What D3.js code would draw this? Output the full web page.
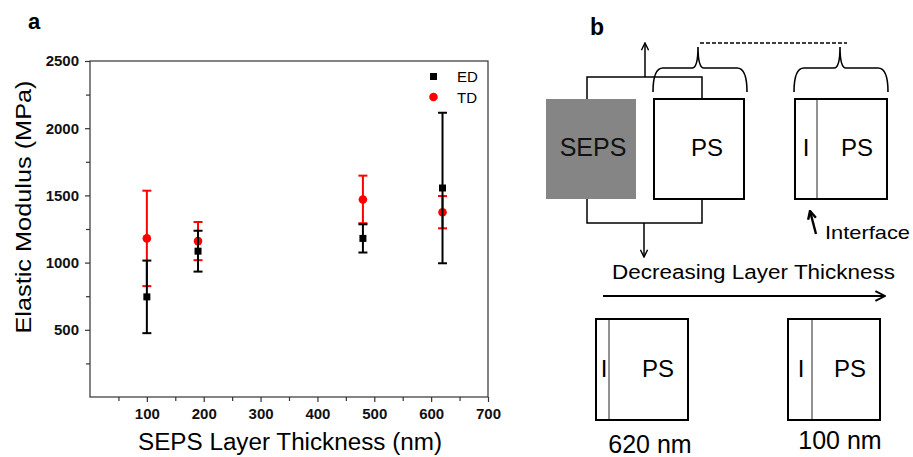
<!DOCTYPE html>
<html>
<head>
<meta charset="utf-8">
<script src="https://cdn.jsdelivr.net/npm/d3@7"></script>
<style>
  body { margin: 0; background: #fff; }
  svg text { font-family: "Liberation Sans", Arial, sans-serif; }
</style>
</head>
<body>
<svg id="fig" width="913" height="457"></svg>
<script>
// data
var thickness = [100, 190, 480, 620];
var edMean = [745, 1085, 1180, 1555];
var edErr = [270, 152, 105, 560];
var tdMean = [1180, 1160, 1470, 1375];
var tdErr = [355, 142, 177, 120];
var xMajor = [100, 200, 300, 400, 500, 600, 700];
var xMinor = [50, 150, 250, 350, 450, 550, 650];
var yMajor = [500, 1000, 1500, 2000, 2500];
var yMinor = [250, 750, 1250, 1750, 2250];

var svg = d3.select("#fig");
var frameCol = "#333";

// ----- panel a -----
var x = d3.scaleLinear().domain([0, 700]).range([90, 488]);
var y = d3.scaleLinear().domain([0, 2500]).range([397, 61]);

svg.append("text").attr("x", 28).attr("y", 29)
  .style("font-size", "22px").style("font-weight", "bold").text("a");

// frame
svg.append("rect")
  .attr("x", x(0)).attr("y", y(2500))
  .attr("width", x(700) - x(0)).attr("height", y(0) - y(2500))
  .attr("fill", "none").attr("stroke", frameCol).attr("stroke-width", 1.2);

svg.append("g").attr("transform", "translate(0," + y(0) + ")")
  .call(d3.axisBottom(x).tickValues(xMajor).tickSize(5).tickPadding(6).tickFormat(d3.format("d")));
svg.append("g").attr("transform", "translate(0," + y(0) + ")")
  .call(d3.axisBottom(x).tickValues(xMinor).tickSize(4).tickFormat(""));
svg.append("g").attr("transform", "translate(" + x(0) + ",0)")
  .call(d3.axisLeft(y).tickValues(yMajor).tickSize(5).tickPadding(6).tickFormat(d3.format("d")));
svg.append("g").attr("transform", "translate(" + x(0) + ",0)")
  .call(d3.axisLeft(y).tickValues(yMinor).tickSize(4).tickFormat(""));

svg.selectAll(".domain").remove();
svg.selectAll(".tick line").attr("stroke", frameCol).attr("stroke-width", 1.2);
svg.selectAll(".tick text")
  .style("font-family", "'Liberation Sans', Arial, sans-serif")
  .style("font-size", "15px").style("font-weight", "bold").attr("fill", "#111");

svg.append("text")
  .attr("x", 290).attr("y", 450).attr("text-anchor", "middle")
  .style("font-size", "23px")
  .attr("textLength", 304).attr("lengthAdjust", "spacingAndGlyphs")
  .text("SEPS Layer Thickness (nm)");

svg.append("text")
  .attr("transform", "translate(31,207) rotate(-90)")
  .attr("text-anchor", "middle")
  .style("font-size", "22px")
  .attr("textLength", 253).attr("lengthAdjust", "spacingAndGlyphs")
  .text("Elastic Modulus (MPa)");

function errorBars(means, errs, color) {
  var g = svg.append("g");
  thickness.forEach(function(t, i) {
    var lo = means[i] - errs[i], hi = means[i] + errs[i];
    g.append("line").attr("x1", x(t)).attr("x2", x(t))
      .attr("y1", y(lo)).attr("y2", y(hi))
      .attr("stroke", color).attr("stroke-width", 2);
    [lo, hi].forEach(function(v) {
      g.append("line").attr("x1", x(t) - 4.5).attr("x2", x(t) + 4.5)
        .attr("y1", y(v)).attr("y2", y(v))
        .attr("stroke", color).attr("stroke-width", 2);
    });
  });
  return g;
}

// red drawn first, black sits on top
var tdG = errorBars(tdMean, tdErr, "#ff0000");
tdG.selectAll("circle.td").data(thickness).enter().append("circle")
  .attr("cx", function(d) { return x(d); })
  .attr("cy", function(d, i) { return y(tdMean[i]); })
  .attr("r", 4.3).attr("fill", "#ff0000");

var edG = errorBars(edMean, edErr, "#000");
edG.selectAll("rect.ed").data(thickness).enter().append("rect")
  .attr("x", function(d) { return x(d) - 3.5; })
  .attr("y", function(d, i) { return y(edMean[i]) - 3.5; })
  .attr("width", 7).attr("height", 7).attr("fill", "#000");

// legend
svg.append("rect").attr("x", 430).attr("y", 73).attr("width", 7).attr("height", 7).attr("fill", "#000");
svg.append("text").attr("x", 457).attr("y", 81.5).style("font-size", "15px").text("ED");
svg.append("circle").attr("cx", 433.5).attr("cy", 97).attr("r", 4.3).attr("fill", "#ff0000");
svg.append("text").attr("x", 457).attr("y", 102.5).style("font-size", "15px").text("TD");

// ----- panel b (schematic) -----
var b = svg.append("g");
b.append("text").attr("x", 590).attr("y", 35)
  .style("font-size", "23px").style("font-weight", "bold").text("b");

var defs = svg.append("defs");
function chevron(id, size, sw) {
  defs.append("marker").attr("id", id)
    .attr("viewBox", "0 0 10 10").attr("refX", 9).attr("refY", 5)
    .attr("markerWidth", size).attr("markerHeight", size).attr("markerUnits", "userSpaceOnUse")
    .attr("orient", "auto")
    .append("path").attr("d", "M1,1 L9,5 L1,9").attr("fill", "none")
    .attr("stroke", "#000").attr("stroke-width", sw);
}
chevron("chev", 9, 1.6);
chevron("chevBig", 12, 1.6);
chevron("chevBold", 10, 2.4);

function line(pts, w, extra) {
  var p = b.append("path").attr("d", d3.line()(pts))
    .attr("fill", "none").attr("stroke", "#000").attr("stroke-width", w || 1.5);
  if (extra) extra(p);
  return p;
}

// connectors
line([[587, 99], [587, 77], [702, 77], [702, 99]]);
line([[587, 199], [587, 223], [702, 223], [702, 200]]);
line([[645, 77], [645, 43]], 1.5, function(p) { p.attr("marker-end", "url(#chev)"); });
line([[644, 223], [644, 257]], 1.5, function(p) { p.attr("marker-end", "url(#chev)"); });

// SEPS block
b.append("rect").attr("x", 546).attr("y", 99).attr("width", 90).attr("height", 100)
  .attr("fill", "#858585");
b.append("text").attr("x", 593).attr("y", 156).attr("text-anchor", "middle")
  .style("font-size", "25px").attr("fill", "#111").text("SEPS");

function box(x0, y0, w, h, iface, label, ix, px, base) {
  b.append("rect").attr("x", x0).attr("y", y0).attr("width", w).attr("height", h)
    .attr("fill", "#fff").attr("stroke", "#000").attr("stroke-width", 2);
  if (iface) {
    b.append("line").attr("x1", iface).attr("x2", iface).attr("y1", y0 + 1).attr("y2", y0 + h - 1)
      .attr("stroke", "#777").attr("stroke-width", 1.6);
    b.append("text").attr("x", ix).attr("y", base).attr("text-anchor", "middle")
      .style("font-size", "24px").text("I");
  }
  b.append("text").attr("x", px).attr("y", base).attr("text-anchor", "middle")
    .style("font-size", "24px").text(label);
}

box(654, 99, 90, 100, null, "PS", 0, 707, 156);
box(795, 99, 92, 100, 817, "PS", 806, 857, 156);

// braces
function brace(xl, xr, xm) {
  var yEnd = 92, yFlat = 68, yTip = 47;
  var d = "M" + xl + "," + yEnd +
    " Q" + xl + "," + yFlat + " " + (xl + 10) + "," + yFlat +
    " L" + (xm - 6) + "," + yFlat +
    " Q" + xm + "," + yFlat + " " + xm + "," + yTip +
    " Q" + xm + "," + yFlat + " " + (xm + 6) + "," + yFlat +
    " L" + (xr - 10) + "," + yFlat +
    " Q" + xr + "," + yFlat + " " + xr + "," + yEnd;
  b.append("path").attr("d", d).attr("fill", "none").attr("stroke", "#000").attr("stroke-width", 1.6);
}
brace(653, 747, 698);
brace(794, 888, 840);
line([[700, 43], [847, 43]], 1.6, function(p) { p.attr("stroke-dasharray", "4,2"); });

// interface pointer
line([[816, 234], [810, 211]], 2.4, function(p) { p.attr("marker-end", "url(#chevBold)"); });
b.append("text").attr("x", 825).attr("y", 239).style("font-size", "19px")
  .attr("textLength", 85).attr("lengthAdjust", "spacingAndGlyphs").text("Interface");

b.append("text").attr("x", 612).attr("y", 279).style("font-size", "20px")
  .attr("textLength", 283).attr("lengthAdjust", "spacingAndGlyphs")
  .text("Decreasing Layer Thickness");
line([[603, 296], [885, 296]], 2, function(p) { p.attr("marker-end", "url(#chevBig)"); });

box(596, 319, 92, 101, 609, "PS", 604, 658, 377);
box(788, 319, 92, 101, 812, "PS", 801, 850, 377);

b.append("text").attr("x", 650).attr("y", 453).attr("text-anchor", "middle")
  .style("font-size", "25px").text("620 nm");
b.append("text").attr("x", 840).attr("y", 449).attr("text-anchor", "middle")
  .style("font-size", "25px").text("100 nm");
</script>
</body>
</html>
